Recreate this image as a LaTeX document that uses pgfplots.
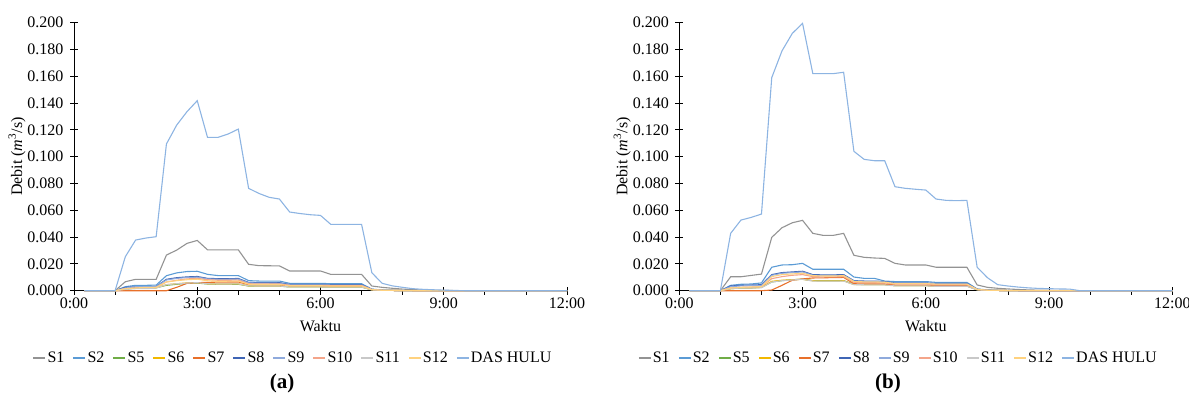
\documentclass[border=0pt]{standalone}
\usepackage{pgfplots}
\pgfplotsset{compat=1.18}
\usepackage{pgfplotstable}
\usepackage{fontspec}
\setmainfont{Liberation Serif}

\definecolor{cS1}{HTML}{939393}
\definecolor{cS2}{HTML}{5B9BD5}
\definecolor{cS5}{HTML}{70AD47}
\definecolor{cS6}{HTML}{F2B800}
\definecolor{cS7}{HTML}{E8702A}
\definecolor{cS8}{HTML}{3F65B5}
\definecolor{cS9}{HTML}{8FAADC}
\definecolor{cS10}{HTML}{F4A58A}
\definecolor{cS11}{HTML}{C8C8C8}
\definecolor{cS12}{HTML}{FFD27F}
\definecolor{cDAS}{HTML}{8DB4E2}

% t S1 S2 S5 S6 S7 S8 S9 S10 S11 S12 DAS
\pgfplotstableread{
t S1 S2 S5 S6 S7 S8 S9 S10 S11 S12 DAS
0.25 0 0 0 0 0 0 0 0 0 0 0
0.5 0 0 0 0 0 0 0 0 0 0 0
0.75 0 0 0 0 0 0 0 0 0 0 0
1.0 0 0 0 0 0 0 0 0 0 0 0
1.25 0.0067 0.0030 0.0010 0.0015 0 0.0025 0.0020 0.0015 0.0010 0.0015 0.0254
1.5 0.0085 0.0040 0.0020 0.0020 0 0.0030 0.0030 0.0020 0.0015 0.0020 0.0378
1.75 0.0085 0.0040 0.0020 0.0020 0 0.0030 0.0030 0.0020 0.0015 0.0025 0.0393
2.0 0.0085 0.0042 0.0022 0.0022 0 0.0032 0.0030 0.0025 0.0020 0.0025 0.0403
2.25 0.0266 0.0112 0.0040 0.0045 0 0.0085 0.0080 0.0065 0.0045 0.0065 0.1095
2.5 0.0303 0.0133 0.0048 0.0052 0.0025 0.0097 0.0092 0.0078 0.0052 0.0075 0.1236
2.75 0.0353 0.0143 0.0055 0.0058 0.0055 0.0103 0.0098 0.0088 0.0057 0.0082 0.1336
3.0 0.0375 0.0145 0.0057 0.0060 0.0060 0.0106 0.0101 0.0092 0.0060 0.0086 0.1418
3.25 0.0305 0.0122 0.0050 0.0052 0.0062 0.0092 0.0088 0.0082 0.0052 0.0074 0.1144
3.5 0.0305 0.0113 0.0048 0.0050 0.0064 0.0090 0.0085 0.0078 0.0050 0.0070 0.1144
3.75 0.0305 0.0113 0.0048 0.0050 0.0065 0.0090 0.0085 0.0078 0.0050 0.0071 0.1169
4.0 0.0305 0.0113 0.0048 0.0051 0.0065 0.0091 0.0086 0.0079 0.0051 0.0072 0.1206
4.25 0.0197 0.0075 0.0035 0.0036 0.0045 0.0062 0.0058 0.0052 0.0036 0.0048 0.0764
4.5 0.0187 0.0072 0.0034 0.0035 0.0044 0.0060 0.0056 0.0050 0.0035 0.0046 0.0726
4.75 0.0186 0.0072 0.0034 0.0035 0.0043 0.0060 0.0056 0.0050 0.0035 0.0046 0.0697
5.0 0.0185 0.0072 0.0034 0.0035 0.0043 0.0060 0.0055 0.0050 0.0035 0.0046 0.0684
5.25 0.0147 0.0055 0.0028 0.0030 0.0035 0.0047 0.0044 0.0040 0.0028 0.0037 0.0587
5.5 0.0147 0.0055 0.0028 0.0030 0.0035 0.0047 0.0044 0.0040 0.0028 0.0037 0.0576
5.75 0.0147 0.0055 0.0028 0.0030 0.0035 0.0047 0.0044 0.0040 0.0028 0.0037 0.0567
6.0 0.0147 0.0055 0.0028 0.0030 0.0035 0.0047 0.0044 0.0040 0.0028 0.0037 0.0562
6.25 0.0122 0.0052 0.0027 0.0029 0.0034 0.0045 0.0042 0.0038 0.0027 0.0035 0.0495
6.5 0.0122 0.0052 0.0027 0.0029 0.0034 0.0045 0.0042 0.0038 0.0027 0.0035 0.0495
6.75 0.0122 0.0052 0.0027 0.0029 0.0034 0.0045 0.0042 0.0038 0.0027 0.0035 0.0495
7.0 0.0122 0.0052 0.0027 0.0029 0.0034 0.0045 0.0042 0.0038 0.0027 0.0035 0.0495
7.25 0.0035 0.0012 0.0006 0.0007 0.0008 0.0010 0.0010 0.0009 0.0006 0.0008 0.0134
7.5 0.0025 0.0005 0.0003 0.0003 0.0003 0.0003 0.0003 0.0003 0.0003 0.0003 0.0055
7.75 0.0018 0.0003 0.0002 0.0002 0.0002 0.0002 0.0002 0.0002 0.0002 0.0002 0.0036
8.0 0.0012 0.0001 0.0001 0.0001 0.0001 0.0001 0.0001 0.0001 0.0001 0.0001 0.0025
8.25 0.0008 0 0 0 0 0 0 0 0 0 0.0015
8.5 0.0005 0 0 0 0 0 0 0 0 0 0.0010
8.75 0.0003 0 0 0 0 0 0 0 0 0 0.0007
9.0 0.0002 0 0 0 0 0 0 0 0 0 0.0004
9.25 0.0001 0 0 0 0 0 0 0 0 0 0.0002
9.5 0 0 0 0 0 0 0 0 0 0 0
9.75 0 0 0 0 0 0 0 0 0 0 0
10.0 0 0 0 0 0 0 0 0 0 0 0
10.25 0 0 0 0 0 0 0 0 0 0 0
10.5 0 0 0 0 0 0 0 0 0 0 0
10.75 0 0 0 0 0 0 0 0 0 0 0
11.0 0 0 0 0 0 0 0 0 0 0 0
11.25 0 0 0 0 0 0 0 0 0 0 0
11.5 0 0 0 0 0 0 0 0 0 0 0
11.75 0 0 0 0 0 0 0 0 0 0 0
12.0 0 0 0 0 0 0 0 0 0 0 0
}\tblA

\pgfplotstableread{
t S1 S2 S5 S6 S7 S8 S9 S10 S11 S12 DAS
0.25 0 0 0 0 0 0 0 0 0 0 0
0.5 0 0 0 0 0 0 0 0 0 0 0
0.75 0 0 0 0 0 0 0 0 0 0 0
1.0 0 0 0 0 0 0 0 0 0 0 0
1.25 0.0104 0.0040 0.0015 0.0015 0 0.0035 0.0030 0.0020 0.0015 0.0020 0.0428
1.5 0.0104 0.0048 0.0020 0.0022 0 0.0040 0.0036 0.0025 0.0020 0.0025 0.0527
1.75 0.0114 0.0050 0.0020 0.0022 0 0.0042 0.0038 0.0027 0.0020 0.0028 0.0547
2.0 0.0124 0.0058 0.0025 0.0025 0 0.0045 0.0040 0.0030 0.0022 0.0030 0.0572
2.25 0.0398 0.0175 0.0065 0.0070 0.0005 0.0120 0.0115 0.0090 0.0065 0.0105 0.1590
2.5 0.0470 0.0192 0.0075 0.0078 0.0040 0.0135 0.0130 0.0105 0.0075 0.0120 0.1790
2.75 0.0507 0.0194 0.0082 0.0082 0.0078 0.0140 0.0135 0.0115 0.0080 0.0125 0.1920
3.0 0.0525 0.0204 0.0086 0.0085 0.0088 0.0145 0.0140 0.0120 0.0085 0.0130 0.1995
3.25 0.0428 0.0160 0.0075 0.0074 0.0095 0.0120 0.0115 0.0105 0.0072 0.0112 0.1620
3.5 0.0413 0.0160 0.0074 0.0073 0.0096 0.0118 0.0113 0.0103 0.0071 0.0110 0.1620
3.75 0.0413 0.0160 0.0074 0.0073 0.0098 0.0118 0.0113 0.0103 0.0071 0.0110 0.1620
4.0 0.0428 0.0160 0.0075 0.0074 0.0099 0.0120 0.0115 0.0105 0.0072 0.0112 0.1630
4.25 0.0264 0.0102 0.0048 0.0046 0.0052 0.0075 0.0072 0.0062 0.0045 0.0068 0.1040
4.5 0.0249 0.0092 0.0046 0.0045 0.0050 0.0072 0.0069 0.0060 0.0044 0.0066 0.0980
4.75 0.0244 0.0092 0.0046 0.0045 0.0050 0.0072 0.0069 0.0060 0.0044 0.0066 0.0970
5.0 0.0241 0.0072 0.0046 0.0045 0.0050 0.0068 0.0065 0.0058 0.0043 0.0063 0.0970
5.25 0.0204 0.0068 0.0038 0.0038 0.0042 0.0058 0.0055 0.0049 0.0036 0.0053 0.0776
5.5 0.0192 0.0068 0.0038 0.0038 0.0042 0.0058 0.0055 0.0049 0.0036 0.0053 0.0764
5.75 0.0192 0.0068 0.0038 0.0038 0.0042 0.0058 0.0055 0.0049 0.0036 0.0053 0.0757
6.0 0.0192 0.0068 0.0038 0.0038 0.0042 0.0058 0.0055 0.0049 0.0036 0.0053 0.0751
6.25 0.0175 0.0062 0.0035 0.0035 0.0039 0.0054 0.0051 0.0045 0.0033 0.0049 0.0684
6.5 0.0175 0.0062 0.0035 0.0035 0.0039 0.0054 0.0051 0.0045 0.0033 0.0049 0.0674
6.75 0.0175 0.0062 0.0035 0.0035 0.0039 0.0054 0.0051 0.0045 0.0033 0.0049 0.0672
7.0 0.0175 0.0062 0.0035 0.0035 0.0039 0.0054 0.0051 0.0045 0.0033 0.0049 0.0674
7.25 0.0043 0.0013 0.0007 0.0008 0.0008 0.0011 0.0010 0.0009 0.0007 0.0010 0.0175
7.5 0.0025 0.0006 0.0003 0.0003 0.0003 0.0003 0.0003 0.0003 0.0003 0.0003 0.0097
7.75 0.0018 0.0003 0.0002 0.0002 0.0002 0.0002 0.0002 0.0002 0.0002 0.0002 0.0045
8.0 0.0013 0.0001 0.0001 0.0001 0.0001 0.0001 0.0001 0.0001 0.0001 0.0001 0.0035
8.25 0.0009 0 0 0.0001 0 0 0 0 0 0.0001 0.0027
8.5 0.0006 0 0 0.0001 0 0 0 0 0 0.0001 0.0021
8.75 0.0004 0 0 0.0001 0 0 0 0 0 0.0001 0.0017
9.0 0.0003 0 0 0.0001 0 0 0 0 0 0.0001 0.0015
9.25 0.0002 0 0 0.0001 0 0 0 0 0 0.0001 0.0013
9.5 0.0001 0 0 0.0001 0 0 0 0 0 0.0001 0.0012
9.75 0 0 0 0 0 0 0 0 0 0 0
10.0 0 0 0 0 0 0 0 0 0 0 0
10.25 0 0 0 0 0 0 0 0 0 0 0
10.5 0 0 0 0 0 0 0 0 0 0 0
10.75 0 0 0 0 0 0 0 0 0 0 0
11.0 0 0 0 0 0 0 0 0 0 0 0
11.25 0 0 0 0 0 0 0 0 0 0 0
11.5 0 0 0 0 0 0 0 0 0 0 0
11.75 0 0 0 0 0 0 0 0 0 0 0
12.0 0 0 0 0 0 0 0 0 0 0 0
}\tblB

\pgfplotsset{
  debit/.style={
    scale only axis, width=493bp, height=268bp,
    xmin=0, xmax=12, ymin=0, ymax=0.2,
    axis x line*=bottom, axis y line*=left,
    axis line style={black, line width=0.8bp},
    every tick/.style={black, line width=0.8bp},
    tick align=outside,
    major tick length=8bp, minor tick length=4bp,
    major x tick style={yshift=4bp},
    major y tick style={xshift=4bp},
    xtick={0,3,6,9,12},
    xticklabels={0:00,3:00,6:00,9:00,12:00},
    minor xtick={1,2,4,5,7,8,10,11},
    ytick={0,0.02,0.04,0.06,0.08,0.1,0.12,0.14,0.16,0.18,0.2},
    scaled y ticks=false,
    yticklabel style={xshift=1bp, /pgf/number format/.cd, fixed, fixed zerofill, precision=3, assume math mode=true},
    xticklabel style={yshift=4bp},
    tick label style={font=\fontsize{16bp}{18bp}\selectfont},
    label style={font=\fontsize{16bp}{18bp}\selectfont},
    xlabel={Waktu},
    xlabel style={at={(axis description cs:0.5,-0.1317)}, anchor=center},
    ylabel={Debit (\textit{m}\textsuperscript{3}/s)},
    ylabel style={at={(axis description cs:-0.1156,0.5)}, anchor=center, rotate=0},
    clip=false,
    every axis plot/.append style={line width=1.1bp, no markers, sharp plot},
    legend columns=-1,
    legend style={at={(axis description cs:0.444,-0.251)}, anchor=center, draw=none, fill=none,
      font=\fontsize{16bp}{18bp}\selectfont,
      nodes={inner xsep=1.5bp, inner ysep=1bp},
      /tikz/every even column/.append style={column sep=7bp}},
    legend image code/.code={\draw[#1, line width=1.1bp] (0bp,0bp) -- (12bp,0bp);},
  }
}

\begin{document}
\begin{tikzpicture}
\useasboundingbox (0,0) rectangle (1189bp,403bp);

\begin{axis}[debit, at={(74bp,112.3bp)}, anchor=south west]
\addplot[cS1] table[x=t,y=S1]{\tblA};
\addplot[cS2] table[x=t,y=S2]{\tblA};
\addplot[cS5] table[x=t,y=S5]{\tblA};
\addplot[cS6] table[x=t,y=S6]{\tblA};
\addplot[cS7] table[x=t,y=S7]{\tblA};
\addplot[cS8] table[x=t,y=S8]{\tblA};
\addplot[cS9] table[x=t,y=S9]{\tblA};
\addplot[cS10] table[x=t,y=S10]{\tblA};
\addplot[cS11] table[x=t,y=S11]{\tblA};
\addplot[cS12] table[x=t,y=S12]{\tblA};
\addplot[cDAS] table[x=t,y=DAS]{\tblA};
\legend{S1,S2,S5,S6,S7,S8,S9,S10,S11,S12,DAS HULU}
\end{axis}

\begin{axis}[debit, at={(679.3bp,112.3bp)}, anchor=south west]
\addplot[cS1] table[x=t,y=S1]{\tblB};
\addplot[cS2] table[x=t,y=S2]{\tblB};
\addplot[cS5] table[x=t,y=S5]{\tblB};
\addplot[cS6] table[x=t,y=S6]{\tblB};
\addplot[cS7] table[x=t,y=S7]{\tblB};
\addplot[cS8] table[x=t,y=S8]{\tblB};
\addplot[cS9] table[x=t,y=S9]{\tblB};
\addplot[cS10] table[x=t,y=S10]{\tblB};
\addplot[cS11] table[x=t,y=S11]{\tblB};
\addplot[cS12] table[x=t,y=S12]{\tblB};
\addplot[cDAS] table[x=t,y=DAS]{\tblB};
\legend{S1,S2,S5,S6,S7,S8,S9,S10,S11,S12,DAS HULU}
\end{axis}

\node[font=\fontsize{21bp}{24bp}\selectfont\bfseries] at (282bp,20bp) {(a)};
\node[font=\fontsize{21bp}{24bp}\selectfont\bfseries] at (888bp,20bp) {(b)};
\end{tikzpicture}
\end{document}
